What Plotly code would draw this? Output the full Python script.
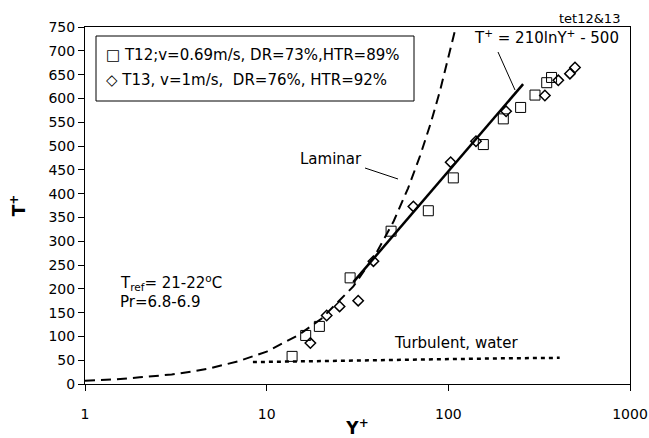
import plotly.graph_objects as go

# ---- data ----
t12_y = [13.8, 16.4, 19.5, 28.8, 48.4, 77.6, 106.5, 155.8, 200.7, 250, 300, 348, 370]
t12_t = [58, 102, 121, 223, 321, 364, 433, 503, 557, 581, 607, 633, 644]
t13_y = [17.4, 21.4, 25.2, 31.9, 38.7, 64.2, 103, 142, 208, 340, 403, 467, 498]
t13_t = [86, 144, 163, 175, 258, 373, 466, 510, 573, 606, 638, 652, 665]

laminar_y = [1, 1.5, 2, 3, 4, 5, 7, 10, 15, 20, 30, 40, 50, 60, 70, 80, 90, 100, 110]
laminar_t = [7, 10, 14, 20, 27, 34, 48, 68, 103, 137, 205, 274, 342, 411, 480, 548, 616, 685, 750]

turb_y = [8.4, 12, 20, 35, 50, 100, 200, 300, 410]
turb_t = [46, 47, 49, 50, 51, 53, 54, 54.5, 55]

fit_y = [30, 258]
fit_t = [214, 630]

FONT = "DejaVu Sans"

fig = go.Figure()
fig.add_trace(go.Scatter(x=laminar_y, y=laminar_t, mode="lines",
                         line=dict(color="black", width=2, dash="10px,6px"),
                         showlegend=False, hoverinfo="skip"))
fig.add_trace(go.Scatter(x=turb_y, y=turb_t, mode="lines",
                         line=dict(color="black", width=2.5, dash="4px,4px"),
                         showlegend=False, hoverinfo="skip"))
fig.add_trace(go.Scatter(x=fit_y, y=fit_t, mode="lines",
                         line=dict(color="black", width=2.5),
                         showlegend=False, hoverinfo="skip"))
fig.add_trace(go.Scatter(x=t12_y, y=t12_t, mode="markers", name="T12",
                         marker=dict(symbol="square-open", size=10, color="black",
                                     line=dict(width=1)),
                         showlegend=False))
fig.add_trace(go.Scatter(x=t13_y, y=t13_t, mode="markers", name="T13",
                         marker=dict(symbol="diamond-open", size=8, color="black",
                                     line=dict(width=1.5)),
                         showlegend=False))

L, R, T, B = 85, 19, 27, 54
W, H = 649, 438
pw, ph = W - L - R, H - T - B


def px(x):
    return (x - L) / pw


def py(y):
    return (H - B - y) / ph


annots = [
    dict(text="\u25A1 T12;v=0.69m/s, DR=73%,HTR=89%", x=px(104), y=py(55), xanchor="left", size=15),
    dict(text="\u25C7 T13, v=1m/s,  DR=76%, HTR=92%", x=px(104), y=py(80), xanchor="left", size=15),
    dict(text="T<sub>ref</sub>= 21-22<sup>o</sup>C", x=px(118), y=py(282), xanchor="left", size=15),
    dict(text="Pr=6.8-6.9", x=px(118), y=py(302), xanchor="left", size=15),
    dict(text="Laminar", x=px(331), y=py(159), xanchor="center", size=15),
    dict(text="T<sup>+</sup> = 210lnY<sup>+</sup> - 500", x=px(546), y=py(37), xanchor="center", size=15),
    dict(text="Turbulent, water", x=px(392), y=py(343), xanchor="left", size=15),
    dict(text="tet12&13", x=px(622), y=py(18), xanchor="right", size=13),
]
for a in annots:
    fig.add_annotation(text=a["text"], x=a["x"], y=a["y"], xref="paper", yref="paper",
                       xanchor=a["xanchor"], yanchor="middle", showarrow=False,
                       font=dict(family=FONT, size=a["size"], color="black"))

shapes = [
    dict(type="rect", x0=px(96), x1=px(414), y0=py(36), y1=py(101)),
    dict(type="line", x0=px(365), y0=py(168), x1=px(398), y1=py(179)),
    dict(type="line", x0=px(498), y0=py(52), x1=px(515), y1=py(90)),
]
for s in shapes:
    fig.add_shape(xref="paper", yref="paper", line=dict(color="black", width=1),
                  fillcolor="rgba(0,0,0,0)", **s)

fig.update_layout(
    width=W, height=H,
    margin=dict(l=L, r=R, t=T, b=B, autoexpand=False),
    paper_bgcolor="white", plot_bgcolor="white",
    font=dict(family=FONT, size=14, color="black"),
    xaxis=dict(type="log", range=[0, 3], tickvals=[1, 10, 100, 1000],
               ticktext=["1", "10", "100", "1000"], automargin=False,
               showgrid=False, zeroline=False, showline=True, linecolor="black",
               linewidth=1, mirror=True, ticks="outside", ticklen=6, tickcolor="black",
               tickfont=dict(size=14), ticklabelstandoff=11,
               title=dict(text="<b>Y<sup>+</sup></b>", font=dict(size=17), standoff=8)),
    yaxis=dict(range=[0, 750], dtick=50, showgrid=False, zeroline=False, automargin=False,
               showline=True, linecolor="black", linewidth=1, mirror=True,
               ticks="outside", ticklen=6, tickcolor="black", tickfont=dict(size=14),
               title=dict(text="<b>T<sup>+</sup></b>", font=dict(size=17), standoff=18)),
)

fig.write_html("out.html")
